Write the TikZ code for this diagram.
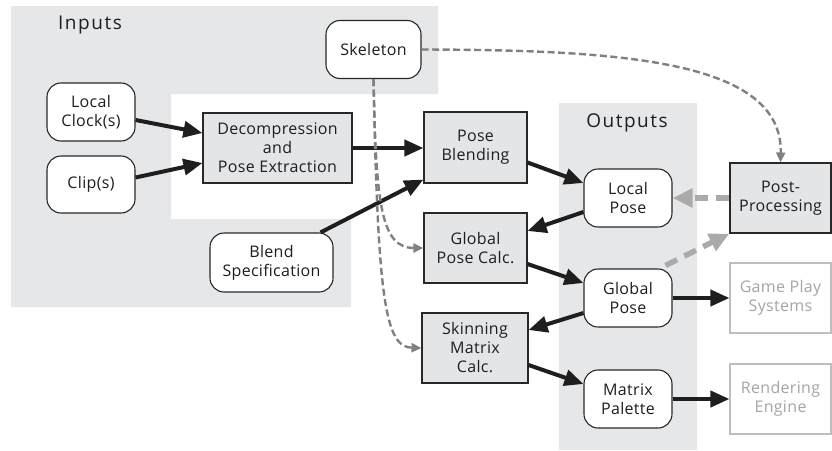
\documentclass[tikz,border=0pt]{standalone}
\usepackage{fontspec}
\setmainfont[LetterSpace=2]{Open Sans}
\newfontfamily\headfont[LetterSpace=8]{Open Sans}
\usetikzlibrary{arrows.meta}
\definecolor{regiongrey}{RGB}{230,231,232}
\definecolor{boxgrey}{RGB}{228,229,231}
\definecolor{boxborder}{RGB}{40,40,40}
\definecolor{inkblack}{RGB}{30,30,30}
\definecolor{dashgrey}{RGB}{128,128,128}
\definecolor{lightgrey}{RGB}{170,170,170}
\definecolor{fadeborder}{RGB}{190,190,190}
\definecolor{fadetext}{RGB}{165,165,165}
\begin{document}
\begin{tikzpicture}[x=1pt,y=-1pt,
  every node/.style={text=inkblack, font=\fontsize{16}{19}\selectfont, align=center, inner sep=0pt},
  procbox/.style={draw=boxborder, line width=1.1pt, fill=boxgrey},
  datanode/.style={draw=boxborder, line width=1.1pt, fill=white, rounded corners=14pt, minimum width=88pt, minimum height=58pt},
  fadebox/.style={draw=fadeborder, line width=1.1pt, fill=white, text=fadetext},
  flow/.style={draw=inkblack, line width=4pt, -{Triangle[length=19pt,width=16pt]}},
  ref/.style={draw=dashgrey, line width=2.4pt, dash pattern=on 7pt off 3.5pt, -{Triangle[length=10pt,width=9pt]}},
  feed/.style={draw=lightgrey, line width=5.5pt, dash pattern=on 13pt off 8pt, -{Triangle[length=20pt,width=18pt]}},
  headlabel/.style={font=\headfont\fontsize{19}{22}\selectfont}
  ]
\useasboundingbox (0,0) rectangle (832,450);
% regions
\fill[regiongrey] (11,6) -- (438,6) -- (438,94) -- (171,94) -- (171,219) -- (351,219) -- (351,307) -- (11,307) -- cycle;
\fill[regiongrey] (559,103) rectangle (697,450);
\node[headlabel] (inlabel) at (90,25) {Inputs};
\node[headlabel] (outlabel) at (627,123) {Outputs};
% nodes
\node[datanode, minimum width=95pt] (skel) at (373.5,49.5) {Skeleton};
\node[datanode] (lclock) at (91,112) {Local\\Clock(s)};
\node[datanode, minimum height=57pt] (clip) at (91,184.5) {Clip(s)};
\node[procbox, minimum width=149pt, minimum height=70pt] (decomp) at (277.5,148) {Decompression\\and\\Pose Extraction};
\node[procbox, minimum width=103pt, minimum height=71pt] (pblend) at (475.5,147.5) {Pose\\Blending};
\node[datanode, minimum width=123pt, minimum height=59pt] (blend) at (271.5,262.5) {Blend\\Specification};
\node[procbox, minimum width=103pt, minimum height=70pt] (gpcalc) at (475.5,248) {Global\\Pose Calc.};
\node[procbox, minimum width=106pt, minimum height=70pt] (skin) at (475,348) {Skinning\\Matrix\\Calc.};
\node[datanode] (lpose) at (628,198) {Local\\Pose};
\node[datanode] (gpose) at (628,298) {Global\\Pose};
\node[datanode] (mpal) at (628,399) {Matrix\\Palette};
\node[procbox, minimum width=101pt, minimum height=70pt] (post) at (780.5,198) {Post-\\Processing};
\node[fadebox, minimum width=101pt, minimum height=70pt] (game) at (780.5,298) {Game Play\\Systems};
\node[fadebox, minimum width=101pt, minimum height=70pt] (render) at (780.5,399) {Rendering\\Engine};
% black flow arrows
\draw[flow] ([yshift=-8pt]lclock.east) -- ([yshift=15pt]decomp.west);
\draw[flow] ([yshift=7pt]clip.east) -- ([yshift=-15pt]decomp.west);
\draw[flow] (decomp.east) -- (decomp.east -| pblend.west);
\draw[flow] ([xshift=-13pt]blend.north east) -- ([yshift=4pt]pblend.south west);
\draw[flow] ([yshift=-15pt]pblend.east) -- ([yshift=15pt]lpose.west);
\draw[flow] ([yshift=-14pt]lpose.west) -- ([yshift=17pt]gpcalc.east);
\draw[flow] ([yshift=-16pt]gpcalc.east) -- ([yshift=15pt]gpose.west);
\draw[flow] ([yshift=-15pt]gpose.west) -- ([yshift=18pt]skin.east);
\draw[flow] ([yshift=-17pt]skin.east) -- ([yshift=15pt]mpal.west);
\draw[flow] (gpose.east) -- (game.west);
\draw[flow] (mpal.east) -- (render.west);
% light feedback arrows
\draw[feed] (post.west) -- (lpose.east);
\draw[feed] ([xshift=-7pt,yshift=3pt]gpose.north east) -- (post.south west);
% skeleton references
\draw[ref] (skel.east) .. controls (620,50) and (783,60) .. (post.north);
\draw[ref] (skel.south) .. controls (376,205) and (381,248) .. (gpcalc.west);
\draw[ref] (skel.south) .. controls (378,300) and (385,347) .. (skin.west);
\end{tikzpicture}
\end{document}
